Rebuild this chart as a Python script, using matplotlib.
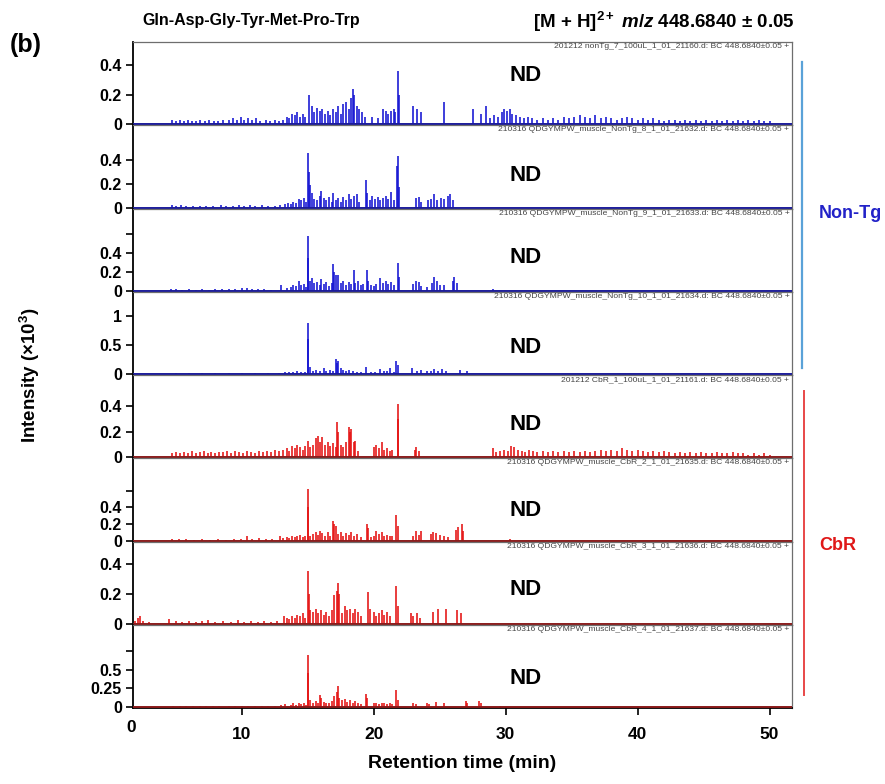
import matplotlib
matplotlib.use('Agg')
import matplotlib.pyplot as plt
from matplotlib.lines import Line2D

plt.rcParams['font.family'] = ['Liberation Sans', 'DejaVu Sans']
plt.rcParams['mathtext.fontset'] = 'custom'
plt.rcParams['mathtext.rm'] = 'Liberation Sans:bold'
plt.rcParams['mathtext.it'] = 'Liberation Sans:italic:bold'
plt.rcParams['mathtext.bf'] = 'Liberation Sans:bold'

# ---------------- data: (retention time [min], intensity [x10^3]) ----------------
nontg7 = [(4.7,0.03),(5.0,0.02),(5.3,0.03),(5.6,0.02),(5.9,0.03),(6.2,0.02),(6.5,0.02),(6.8,0.03),
          (7.2,0.02),(7.5,0.03),(7.9,0.02),(8.2,0.02),(8.6,0.03),(9.0,0.03),(9.3,0.04),(9.6,0.03),
          (9.9,0.05),(10.2,0.03),(10.5,0.04),(10.8,0.03),(11.1,0.04),(11.4,0.02),(11.8,0.03),(12.1,0.02),
          (12.5,0.03),(12.8,0.02),(13.1,0.03),(13.4,0.05),(13.6,0.04),(13.8,0.07),(14.0,0.06),(14.2,0.08),
          (14.4,0.05),(14.6,0.07),(14.8,0.05),(15.1,0.20),(15.3,0.12),(15.5,0.08),(15.7,0.11),(15.9,0.09),
          (16.1,0.10),(16.3,0.07),(16.5,0.09),(16.7,0.06),(16.9,0.10),(17.1,0.08),(17.3,0.12),(17.5,0.07),
          (17.7,0.14),(17.9,0.15),(18.1,0.10),(18.3,0.18),(18.4,0.24),(18.5,0.20),(18.7,0.12),(18.9,0.10),
          (19.1,0.08),(19.3,0.05),(19.9,0.05),(20.3,0.04),(20.7,0.10),(20.9,0.09),(21.1,0.07),(21.3,0.09),
          (21.5,0.10),(21.6,0.08),(21.8,0.36),(21.9,0.20),(23.0,0.12),(23.3,0.10),(23.6,0.08),(25.3,0.15),
          (27.5,0.10),(28.1,0.07),(28.5,0.12),(28.8,0.04),(29.1,0.06),(29.4,0.05),(29.7,0.08),(29.9,0.10),
          (30.1,0.09),(30.3,0.10),(30.5,0.07),(30.8,0.06),(31.1,0.05),(31.4,0.04),(31.7,0.05),(32.0,0.04),
          (32.4,0.03),(32.8,0.04),(33.2,0.03),(33.6,0.04),(34.0,0.03),(34.4,0.05),(34.8,0.04),(35.2,0.05),
          (35.6,0.06),(36.0,0.05),(36.4,0.04),(36.8,0.06),(37.2,0.04),(37.6,0.05),(38.0,0.04),(38.4,0.03),
          (38.8,0.04),(39.2,0.05),(39.6,0.04),(40.0,0.03),(40.4,0.04),(40.8,0.03),(41.2,0.04),(41.6,0.03),
          (42.0,0.02),(42.4,0.03),(42.8,0.03),(43.2,0.02),(43.6,0.03),(44.0,0.02),(44.4,0.03),(44.8,0.02),
          (45.2,0.03),(45.6,0.02),(46.0,0.03),(46.4,0.02),(46.8,0.03),(47.2,0.02),(47.6,0.03),(48.0,0.02),
          (48.4,0.03),(48.8,0.02),(49.2,0.03),(49.6,0.02),(50.0,0.02)]

nontg8 = [(4.7,0.02),(5.0,0.015),(5.4,0.02),(5.8,0.01),(6.3,0.015),(6.8,0.01),(7.3,0.015),(7.8,0.01),
          (8.4,0.02),(8.8,0.015),(9.3,0.01),(9.8,0.02),(10.2,0.015),(10.6,0.02),(11.0,0.015),(11.5,0.02),
          (12.0,0.01),(12.5,0.015),(12.9,0.02),(13.3,0.03),(13.5,0.04),(13.7,0.03),(13.9,0.05),(14.1,0.04),
          (14.3,0.07),(14.5,0.06),(14.7,0.08),(14.85,0.05),(15.0,0.46),(15.1,0.30),(15.2,0.19),(15.35,0.12),
          (15.5,0.07),(15.7,0.06),(15.9,0.10),(16.0,0.14),(16.2,0.08),(16.4,0.06),(16.6,0.09),(16.8,0.05),
          (16.9,0.12),(17.1,0.06),(17.3,0.08),(17.5,0.05),(17.7,0.09),(17.9,0.06),(18.1,0.11),(18.3,0.07),
          (18.5,0.10),(18.7,0.11),(18.9,0.05),(19.4,0.23),(19.5,0.12),(19.7,0.06),(19.9,0.10),(20.1,0.07),
          (20.3,0.09),(20.5,0.06),(20.7,0.08),(20.9,0.10),(21.1,0.07),(21.3,0.13),(21.5,0.06),(21.75,0.35),
          (21.8,0.43),(21.9,0.17),(23.2,0.08),(23.4,0.09),(23.6,0.05),(24.1,0.06),(24.3,0.07),(24.6,0.11),
          (24.8,0.06),(25.1,0.08),(25.3,0.07),(25.6,0.10),(25.8,0.11),(26.0,0.06)]

nontg9 = [(4.6,0.02),(5.0,0.015),(5.5,0.01),(6.0,0.015),(6.5,0.01),(7.0,0.015),(7.5,0.01),(8.0,0.02),
          (8.5,0.015),(9.0,0.02),(9.5,0.02),(10.0,0.025),(10.4,0.03),(10.8,0.02),(11.2,0.02),(11.7,0.015),
          (12.2,0.01),(13.0,0.06),(13.4,0.03),(13.7,0.04),(13.9,0.06),(14.1,0.05),(14.3,0.10),(14.5,0.06),
          (14.7,0.07),(14.85,0.04),(15.0,0.58),(15.05,0.35),(15.2,0.10),(15.35,0.13),(15.5,0.08),(15.7,0.09),
          (15.9,0.06),(16.0,0.12),(16.2,0.07),(16.4,0.09),(16.6,0.05),(16.8,0.08),(16.9,0.28),(17.0,0.20),
          (17.1,0.17),(17.3,0.17),(17.5,0.08),(17.7,0.10),(17.9,0.06),(18.1,0.09),(18.3,0.07),(18.5,0.22),
          (18.6,0.08),(18.8,0.10),(19.0,0.06),(19.2,0.07),(19.5,0.22),(19.6,0.10),(19.8,0.06),(20.0,0.05),
          (20.2,0.07),(20.5,0.14),(20.7,0.08),(20.9,0.10),(21.1,0.07),(21.3,0.09),(21.5,0.06),(21.8,0.29),
          (21.9,0.15),(23.0,0.07),(23.2,0.10),(23.4,0.09),(23.6,0.05),(24.0,0.04),(24.4,0.08),(24.6,0.15),
          (24.8,0.10),(25.0,0.06),(25.3,0.06),(26.0,0.10),(26.1,0.15),(26.3,0.08),(29.0,0.02)]

nontg10 = [(5.0,0.01),(6.0,0.015),(7.0,0.01),(8.0,0.01),(9.0,0.015),(10.0,0.01),(11.0,0.02),(12.0,0.01),
           (12.8,0.02),(13.3,0.03),(13.6,0.04),(13.9,0.03),(14.2,0.05),(14.5,0.04),(14.8,0.03),(15.0,0.88),
           (15.05,0.60),(15.2,0.12),(15.4,0.05),(15.6,0.07),(15.9,0.05),(16.2,0.10),(16.4,0.06),(16.7,0.07),
           (16.9,0.05),(17.1,0.26),(17.2,0.20),(17.3,0.23),(17.5,0.10),(17.7,0.07),(17.9,0.05),(18.1,0.07),
           (18.4,0.06),(18.7,0.04),(19.0,0.03),(19.4,0.12),(19.8,0.04),(20.1,0.03),(20.5,0.09),(20.8,0.05),
           (21.0,0.06),(21.2,0.10),(21.5,0.04),(21.7,0.23),(21.8,0.15),(22.9,0.10),(23.3,0.05),(23.6,0.07),
           (24.0,0.06),(24.3,0.05),(24.6,0.09),(24.9,0.06),(25.2,0.08),(25.5,0.05),(26.5,0.07),(27.1,0.06)]

cbr1 = [(4.7,0.03),(5.0,0.04),(5.3,0.03),(5.6,0.04),(5.9,0.03),(6.2,0.05),(6.5,0.03),(6.8,0.04),
        (7.1,0.05),(7.4,0.03),(7.7,0.04),(8.0,0.03),(8.3,0.04),(8.6,0.04),(8.9,0.05),(9.2,0.03),
        (9.5,0.05),(9.8,0.04),(10.1,0.03),(10.4,0.05),(10.7,0.04),(11.0,0.03),(11.3,0.05),(11.6,0.04),
        (11.9,0.05),(12.2,0.04),(12.5,0.06),(12.8,0.05),(13.1,0.06),(13.4,0.07),(13.6,0.05),(13.8,0.09),
        (14.0,0.07),(14.2,0.10),(14.4,0.08),(14.6,0.06),(14.8,0.09),(15.0,0.13),(15.2,0.08),(15.4,0.10),
        (15.6,0.15),(15.8,0.17),(15.9,0.12),(16.1,0.16),(16.3,0.10),(16.5,0.12),(16.7,0.09),(16.9,0.11),
        (17.1,0.08),(17.2,0.28),(17.3,0.20),(17.5,0.10),(17.7,0.08),(17.9,0.12),(18.1,0.24),(18.2,0.20),
        (18.3,0.22),(18.5,0.12),(18.6,0.13),(18.8,0.05),(20.0,0.08),(20.2,0.10),(20.4,0.07),(20.6,0.12),
        (20.8,0.06),(21.0,0.07),(21.2,0.05),(21.4,0.06),(21.8,0.415),(21.85,0.30),(23.1,0.06),(23.2,0.08),
        (23.4,0.05),(29.0,0.07),(29.3,0.04),(29.6,0.05),(29.9,0.06),(30.2,0.05),(30.4,0.09),(30.6,0.08),
        (30.9,0.06),(31.2,0.05),(31.5,0.04),(31.8,0.06),(32.1,0.05),(32.4,0.04),(32.8,0.05),(33.2,0.04),
        (33.6,0.05),(34.0,0.04),(34.4,0.05),(34.8,0.04),(35.2,0.05),(35.6,0.04),(36.0,0.05),(36.4,0.04),
        (36.8,0.05),(37.2,0.06),(37.6,0.05),(38.0,0.06),(38.4,0.05),(38.8,0.07),(39.2,0.06),(39.6,0.05),
        (40.0,0.06),(40.4,0.05),(40.8,0.04),(41.2,0.05),(41.6,0.04),(42.0,0.05),(42.4,0.04),(42.8,0.03),
        (43.2,0.04),(43.6,0.03),(44.0,0.04),(44.4,0.03),(44.8,0.04),(45.2,0.03),(45.6,0.03),(46.0,0.04),
        (46.4,0.03),(46.8,0.03),(47.2,0.04),(47.6,0.03),(48.0,0.03),(48.4,0.02),(48.8,0.03),(49.2,0.02),
        (49.6,0.03),(50.0,0.02)]

cbr2 = [(4.7,0.02),(5.2,0.015),(5.8,0.02),(6.4,0.01),(7.0,0.015),(7.6,0.01),(8.2,0.015),(8.8,0.01),
        (9.4,0.015),(9.9,0.02),(10.4,0.05),(10.8,0.02),(11.3,0.03),(11.8,0.02),(12.3,0.015),(12.9,0.05),
        (13.1,0.03),(13.4,0.04),(13.6,0.03),(13.8,0.05),(14.0,0.04),(14.2,0.06),(14.4,0.07),(14.6,0.04),
        (14.8,0.05),(15.0,0.62),(15.05,0.40),(15.2,0.06),(15.4,0.08),(15.6,0.10),(15.8,0.07),(15.9,0.11),
        (16.1,0.09),(16.3,0.06),(16.5,0.10),(16.7,0.05),(16.9,0.24),(17.0,0.20),(17.1,0.18),(17.3,0.08),
        (17.5,0.10),(17.7,0.06),(17.9,0.09),(18.1,0.07),(18.3,0.10),(18.5,0.06),(18.7,0.08),(19.0,0.04),
        (19.5,0.20),(19.6,0.15),(19.8,0.04),(20.0,0.06),(20.2,0.12),(20.4,0.08),(20.6,0.10),(20.8,0.06),
        (21.0,0.07),(21.2,0.05),(21.4,0.06),(21.7,0.31),(21.8,0.18),(23.0,0.06),(23.2,0.12),(23.4,0.07),
        (23.6,0.12),(24.3,0.08),(24.5,0.10),(24.7,0.09),(25.0,0.07),(25.3,0.06),(25.6,0.04),(26.2,0.13),
        (26.4,0.16),(26.7,0.20),(26.8,0.12),(30.3,0.02)]

cbr3 = [(1.9,0.02),(2.1,0.04),(2.3,0.05),(2.5,0.02),(3.0,0.01),(4.5,0.03),(5.0,0.02),(5.5,0.015),
        (6.0,0.02),(6.5,0.015),(7.0,0.02),(7.4,0.025),(8.0,0.015),(8.6,0.02),(9.2,0.015),(9.7,0.025),
        (10.2,0.015),(10.7,0.02),(11.2,0.015),(11.7,0.02),(12.2,0.015),(12.7,0.02),(13.2,0.05),(13.4,0.04),
        (13.6,0.03),(13.8,0.05),(14.0,0.04),(14.2,0.06),(14.4,0.05),(14.6,0.07),(14.8,0.04),(15.0,0.35),
        (15.1,0.20),(15.2,0.09),(15.4,0.08),(15.6,0.10),(15.8,0.07),(16.0,0.09),(16.2,0.06),(16.4,0.08),
        (16.6,0.05),(16.8,0.09),(17.0,0.19),(17.2,0.22),(17.3,0.27),(17.4,0.20),(17.6,0.07),(17.8,0.12),
        (18.0,0.09),(18.2,0.10),(18.4,0.07),(18.6,0.10),(18.8,0.08),(19.0,0.05),(19.6,0.21),(19.7,0.10),
        (20.0,0.08),(20.2,0.05),(20.4,0.07),(20.6,0.09),(20.8,0.06),(21.0,0.08),(21.2,0.05),(21.7,0.25),
        (21.8,0.12),(22.8,0.07),(23.0,0.05),(23.3,0.07),(23.5,0.04),(24.5,0.08),(24.9,0.10),(25.5,0.10),
        (26.3,0.09),(26.6,0.07)]

cbr4 = [(4.8,0.02),(5.3,0.01),(5.8,0.02),(6.3,0.015),(6.8,0.02),(7.3,0.01),(7.8,0.015),(8.3,0.01),
        (9.0,0.02),(9.5,0.01),(10.0,0.02),(10.5,0.015),(11.0,0.02),(11.5,0.02),(12.0,0.015),(12.5,0.02),
        (13.0,0.03),(13.3,0.04),(13.5,0.02),(13.7,0.03),(13.9,0.05),(14.1,0.03),(14.3,0.06),(14.5,0.04),
        (14.7,0.05),(14.85,0.03),(15.0,0.69),(15.05,0.45),(15.2,0.10),(15.4,0.06),(15.6,0.08),(15.8,0.05),
        (15.9,0.16),(16.0,0.12),(16.2,0.07),(16.4,0.05),(16.6,0.06),(16.8,0.08),(17.0,0.15),(17.2,0.20),
        (17.3,0.28),(17.4,0.12),(17.6,0.09),(17.8,0.11),(18.0,0.07),(18.2,0.10),(18.4,0.06),(18.6,0.08),
        (18.8,0.05),(19.0,0.04),(19.4,0.18),(19.5,0.12),(20.0,0.05),(20.2,0.06),(20.4,0.04),(20.6,0.05),
        (20.8,0.06),(21.0,0.04),(21.2,0.05),(21.4,0.04),(21.7,0.23),(21.8,0.10),(23.0,0.06),(23.2,0.04),
        (24.0,0.06),(24.2,0.04),(24.7,0.07),(25.3,0.06),(27.0,0.08),(27.1,0.05),(28.0,0.08),(28.1,0.06),
        (29.6,0.01)]

traces = [nontg7, nontg8, nontg9, nontg10, cbr1, cbr2, cbr3, cbr4]
groups = ['Non-Tg', 'Non-Tg', 'Non-Tg', 'Non-Tg', 'CbR', 'CbR', 'CbR', 'CbR']
file_labels = [
    "201212 nonTg_7_100uL_1_01_21160.d: BC 448.6840\u00b10.05 +",
    "210316 QDGYMPW_muscle_NonTg_8_1_01_21632.d: BC 448.6840\u00b10.05 +",
    "210316 QDGYMPW_muscle_NonTg_9_1_01_21633.d: BC 448.6840\u00b10.05 +",
    "210316 QDGYMPW_muscle_NonTg_10_1_01_21634.d: BC 448.6840\u00b10.05 +",
    "201212 CbR_1_100uL_1_01_21161.d: BC 448.6840\u00b10.05 +",
    "210316 QDGYMPW_muscle_CbR_2_1_01_21635.d: BC 448.6840\u00b10.05 +",
    "210316 QDGYMPW_muscle_CbR_3_1_01_21636.d: BC 448.6840\u00b10.05 +",
    "210316 QDGYMPW_muscle_CbR_4_1_01_21637.d: BC 448.6840\u00b10.05 +",
]
y_ticks = [[0, 0.2, 0.4], [0, 0.2, 0.4], [0, 0.2, 0.4, 0.6], [0, 0.5, 1],
           [0, 0.2, 0.4], [0, 0.2, 0.4, 0.6], [0, 0.2, 0.4], [0, 0.25, 0.5, 0.75]]
y_tick_labels = [['0', '0.2', '0.4'], ['0', '0.2', '0.4'], ['0', '0.2', '0.4', ''], ['0', '0.5', '1'],
                 ['0', '0.2', '0.4'], ['0', '0.2', '0.4', ''], ['0', '0.2', '0.4'], ['0', '0.25', '0.5', '']]
x_ticks = [10, 20, 30, 40, 50]

# ---------------- layout / style ----------------
y_tops = [0.555, 0.69, 0.87, 1.43, 0.645, 0.99, 0.55, 1.10]
nd_y = [0.60, 0.40, 0.41, 0.33, 0.40, 0.37, 0.42, 0.36]
x_range = (1.75, 51.7)
trace_col = {'Non-Tg': '#1414d2', 'CbR': '#e41212'}
base_col = {'Non-Tg': '#1a1a9a', 'CbR': '#8a1a1a'}

W, H = 885, 784
fig = plt.figure(figsize=(W / 100, H / 100), dpi=100)

left_px, right_px = 133, 792
top_px, panel_h = 42, 83.25

for i, (tr, grp) in enumerate(zip(traces, groups)):
    top = top_px + panel_h * i
    ax = fig.add_axes([left_px / W, 1 - (top + panel_h) / H, (right_px - left_px) / W, panel_h / H])
    t = [p[0] for p in tr]
    h = [p[1] for p in tr]
    ax.vlines(t, 0, h, color=trace_col[grp], lw=1.15)
    ax.axhline(0, color=base_col[grp], lw=1.4, zorder=3)
    rng = y_tops[i]
    ax.set_ylim(-0.012 * rng, rng)
    ax.set_xlim(*x_range)
    ax.set_yticks(y_ticks[i])
    ax.set_yticklabels(y_tick_labels[i])
    ax.tick_params(axis='y', direction='out', length=5, width=1.2, pad=3, labelsize=11.5)
    for lab in ax.get_yticklabels():
        lab.set_fontweight('bold')
    ax.spines['left'].set_color('black')
    ax.spines['left'].set_linewidth(1.3)
    for s in ['top', 'right', 'bottom']:
        ax.spines[s].set_color('#6e6e6e')
        ax.spines[s].set_linewidth(0.9)
    ax.text(0.996, 0.985, file_labels[i], transform=ax.transAxes, ha='right', va='top',
            fontsize=6.1, color='#444444')
    ax.text(31.5, nd_y[i] * (rng * 1.012) - 0.012 * rng, 'ND', ha='center', va='center',
            fontsize=16, fontweight='bold', color='black')
    if i < len(traces) - 1:
        ax.set_xticks([])
    else:
        ax.set_xticks(x_ticks)
        ax.set_xticklabels([str(v) for v in x_ticks])
        ax.tick_params(axis='x', direction='out', length=5, width=1.2, pad=9, labelsize=12.5)
        for lab in ax.get_xticklabels():
            lab.set_fontweight('bold')
        ax.spines['bottom'].set_color('black')
        ax.spines['bottom'].set_linewidth(1.3)
        ax.text(x_range[0] - 0.1, -0.14, '0', transform=ax.get_xaxis_transform(), ha='center',
                va='top', fontsize=12.5, fontweight='bold')
        ax.set_xlabel('Retention time (min)', fontsize=14, fontweight='bold', labelpad=9)

# titles
fig.text(10 / W, 1 - 45 / H, '(b)', fontsize=18, fontweight='bold', va='center', ha='left')
fig.text(142 / W, 1 - 20 / H, 'Gln-Asp-Gly-Tyr-Met-Pro-Trp', fontsize=11.5, fontweight='bold',
         va='center', ha='left')
fig.text(795 / W, 1 - 22 / H, r'[M + H]$^{2+}$ $\it{m/z}$ 448.6840 $\pm$ 0.05', fontsize=13.5,
         fontweight='bold', va='center', ha='right')
fig.text(30 / W, 1 - 375 / H, r'Intensity ($\times$10$^{3}$)', fontsize=13.5, fontweight='bold',
         rotation=90, va='center', ha='center')

# group bars and labels
fig.add_artist(Line2D([802 / W, 802 / W], [1 - 62 / H, 1 - 368 / H], color='#5aa2d8', lw=1.6))
fig.add_artist(Line2D([804 / W, 804 / W], [1 - 391 / H, 1 - 695 / H], color='#e84848', lw=1.4))
fig.text(850 / W, 1 - 213 / H, 'Non-Tg', fontsize=13, fontweight='bold', color='#2222c8',
         ha='center', va='center')
fig.text(838 / W, 1 - 545 / H, 'CbR', fontsize=13, fontweight='bold', color='#e01818',
         ha='center', va='center')

fig.savefig('out.png', dpi=100)
